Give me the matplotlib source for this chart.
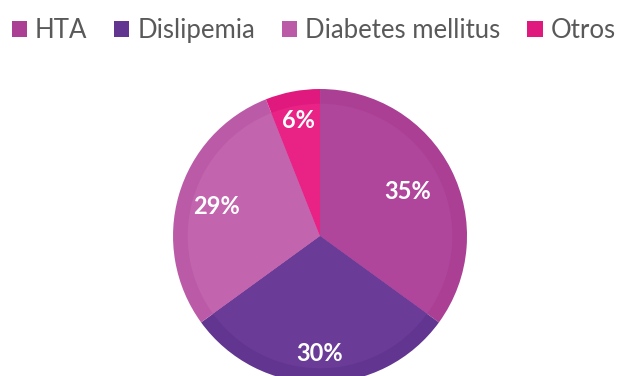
import matplotlib.pyplot as plt
from matplotlib.patches import Patch
import numpy as np

# data
labels = ["HTA", "Dislipemia", "Diabetes mellitus", "Otros"]
values = [35, 30, 29, 6]
colors = ["#AA3F94", "#623591", "#BB5BA8", "#E0197E"]
inner_colors = ["#B0469B", "#6A3C98", "#C264AE", "#E82385"]
label_r = [0.67, 0.80, 0.73, 0.80]

plt.rcParams['font.family'] = ['Lato', 'DejaVu Sans']

fig = plt.figure(figsize=(6.41, 3.76), dpi=100)
ax = fig.add_axes([0.2699, -0.0186, 0.4587, 0.7819])

wedges, _ = ax.pie(values, colors=colors, startangle=90, counterclock=False,
                   radius=1, wedgeprops=dict(linewidth=0))
ax.pie(values, colors=inner_colors, startangle=90, counterclock=False,
       radius=0.9, wedgeprops=dict(linewidth=0))
ax.set_xlim(-1, 1)
ax.set_ylim(-1, 1)
ax.set_aspect('equal')
ax.axis('off')

total = sum(values)
start = 90.0
for v, r in zip(values, label_r):
    ang = np.deg2rad(start - v / total * 360 / 2)
    ax.text(r * np.cos(ang), r * np.sin(ang), f"{v}%", color="white",
            fontsize=17, fontweight="bold", ha="center", va="center")
    start -= v / total * 360

handles = [Patch(facecolor=c, edgecolor='none') for c in colors]
fig.legend(handles, labels, loc='upper left', bbox_to_anchor=(-0.006, 0.993),
           ncol=4, frameon=False, fontsize=18.5, labelcolor="#595959",
           handlelength=0.6, handleheight=0.6, handletextpad=0.3,
           columnspacing=1.05, borderaxespad=0.2)

fig.savefig("out.png", dpi=100)
